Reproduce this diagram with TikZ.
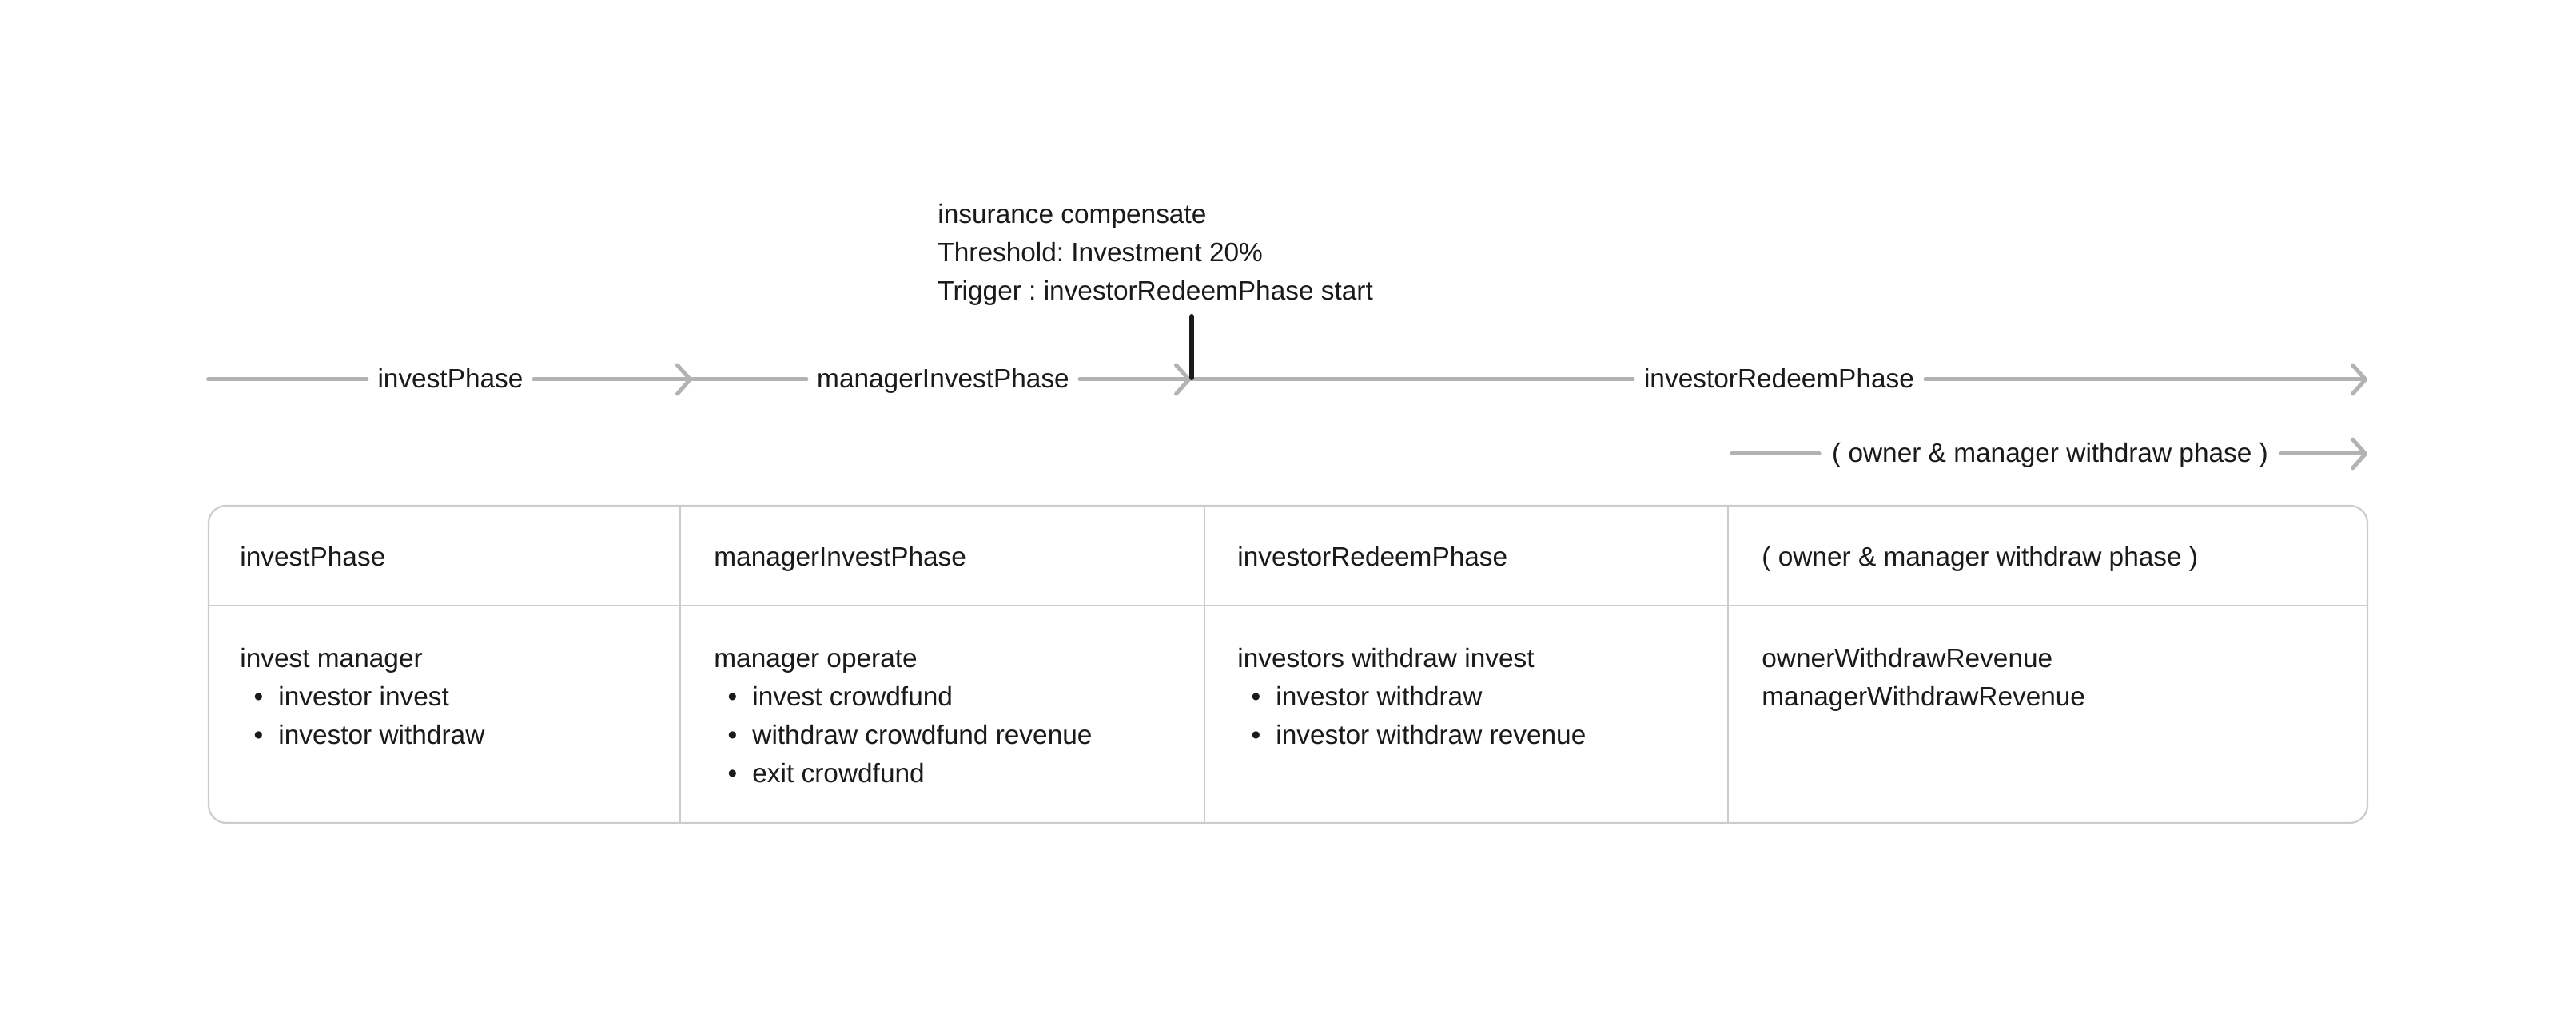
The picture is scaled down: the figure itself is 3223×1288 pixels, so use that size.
\documentclass[tikz,border=0pt]{standalone}
\usepackage{fontspec}
\setmainfont{Liberation Sans}
\usetikzlibrary{arrows.meta}
\definecolor{linegray}{HTML}{B3B3B3}
\definecolor{tablegray}{HTML}{CCCCCC}
\definecolor{txt}{HTML}{1A1A1A}
\definecolor{tickcol}{HTML}{1A1A1A}
\newcommand\bitem[1]{\makebox[23pt][c]{•}\hspace{1pt}#1}
\frenchspacing
\begin{document}
\begin{tikzpicture}[x=0.5pt,y=-0.5pt,
  every node/.style={font=\fontsize{16.7}{20}\selectfont, text=txt},
  phaselabel/.style={inner xsep=0pt, inner ysep=0pt, text height=11pt, text depth=0pt, anchor=center},
  tl/.style={draw=linegray, line width=2.5pt, line cap=round},
  tlarrow/.style={tl, -{Straight Barb[length=8pt,width=18pt,round]}},
  celltext/.style={anchor=base west, inner sep=0pt},
  gridline/.style={draw=tablegray, line width=1.1pt}]

\useasboundingbox[fill=white] (0,0) rectangle (3223,1288);

% timeline row 1
\coordinate (s1) at (260.5,475);
\node[phaselabel, minimum width=104pt] (l1) at (563.5,475) {investPhase};
\coordinate (a1) at (866,475);
\node[phaselabel, minimum width=170.5pt] (l2) at (1180,475) {managerInvestPhase};
\coordinate (a2) at (1490,475);
\node[phaselabel, minimum width=182.5pt] (l3) at (2226,475) {investorRedeemPhase};
\coordinate (a3) at (2962,475);
% timeline row 2
\coordinate (s4) at (2166.5,568);
\node[phaselabel, minimum width=288.5pt] (l4) at (2565,568) {( owner \& manager withdraw phase )};
\coordinate (a4) at (2962,568);

\draw[tl] (s1) -- (l1.west);
\draw[tlarrow] (l1.east) -- (a1);
\draw[tl] (a1) -- (l2.west);
\draw[tlarrow] (l2.east) -- (a2);
\draw[tl] (a2) -- (l3.west);
\draw[tlarrow] (l3.east) -- (a3);
\draw[tl] (s4) -- (l4.west);
\draw[tlarrow] (l4.east) -- (a4);

% insurance tick
\coordinate (tkt) at (1491,396);
\coordinate (tkb) at (1491,473);
\draw[draw=tickcol, line width=3pt, line cap=round] (tkt) -- (tkb);
\node[celltext] (ann1) at (1173,280) {insurance compensate};
\node[celltext] (ann2) at (1173,328) {Threshold: Investment 20\%};
\node[celltext] (ann3) at (1173,376) {Trigger : investorRedeemPhase start};

% table
\draw[gridline, rounded corners=11pt] (261,633) rectangle (2962,1030);
\draw[gridline] (261,758) -- (2962,758);
\foreach \xx in {851,1507,2162} \draw[gridline] (\xx,633) -- (\xx,1030);

% headers
\node[celltext] (h1) at (300,708) {investPhase};
\node[celltext] (h2) at (893,708) {managerInvestPhase};
\node[celltext] (h3) at (1548,708) {investorRedeemPhase};
\node[celltext] (h4) at (2204,708) {( owner \& manager withdraw phase )};

% column 1
\node[celltext] (c1a) at (300,835) {invest manager};
\node[celltext] (c1b) at (300,883) {\bitem{investor invest}};
\node[celltext] (c1c) at (300,931) {\bitem{investor withdraw}};
% column 2
\node[celltext] (c2a) at (893,835) {manager operate};
\node[celltext] (c2b) at (893,883) {\bitem{invest crowdfund}};
\node[celltext] (c2c) at (893,931) {\bitem{withdraw crowdfund revenue}};
\node[celltext] (c2d) at (893,979) {\bitem{exit crowdfund}};
% column 3
\node[celltext] (c3a) at (1548,835) {investors withdraw invest};
\node[celltext] (c3b) at (1548,883) {\bitem{investor withdraw}};
\node[celltext] (c3c) at (1548,931) {\bitem{investor withdraw revenue}};
% column 4
\node[celltext] (c4a) at (2204,835) {ownerWithdrawRevenue};
\node[celltext] (c4b) at (2204,883) {managerWithdrawRevenue};
\end{tikzpicture}
\end{document}
